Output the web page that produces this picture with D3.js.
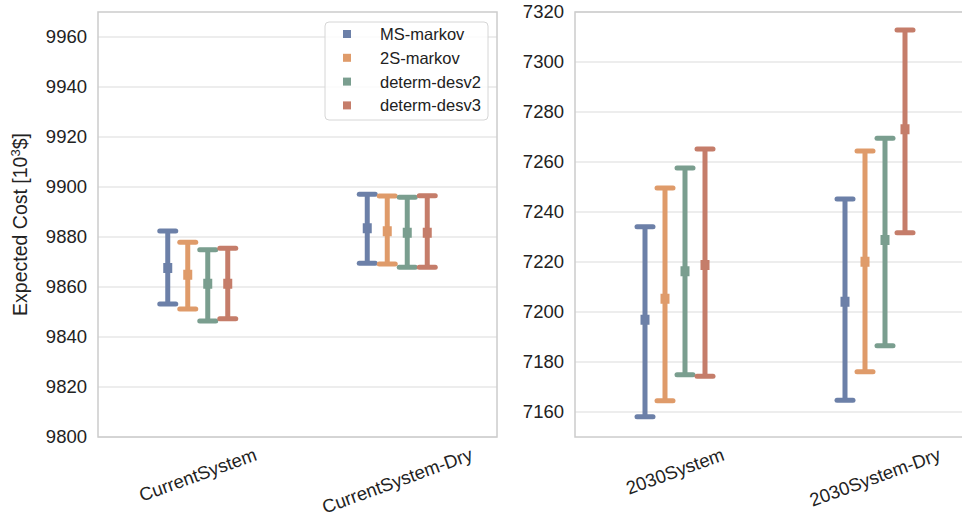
<!DOCTYPE html>
<html>
<head>
<meta charset="utf-8">
<script src="https://cdn.jsdelivr.net/npm/d3@7"></script>
<style>
  html, body { margin: 0; padding: 0; background: #fff; }
  svg { display: block; }
  text { font-family: "Liberation Sans", Arial, Helvetica, sans-serif; fill: #222; }
</style>
</head>
<body>
<svg id="chart" width="962" height="515"></svg>
<script>
// Scenario categories for each panel
const categoriesLeft = ["CurrentSystem", "CurrentSystem-Dry"];
const categoriesRight = ["2030System", "2030System-Dry"];
const seriesNames = ["MS-markov", "2S-markov", "determ-desv2", "determ-desv3"];
const seriesColors = ["#6c80a8", "#df9b6a", "#7a9e8f", "#c57d6a"];

// Expected cost (mean) and interval bounds, left panel
const meanLeft = {
  "MS-markov":    [9867.6, 9883.5],
  "2S-markov":    [9864.9, 9882.3],
  "determ-desv2": [9861.3, 9881.7],
  "determ-desv3": [9861.3, 9881.7]
};
const lowLeft = {
  "MS-markov":    [9853.2, 9869.5],
  "2S-markov":    [9851.2, 9869.2],
  "determ-desv2": [9846.4, 9867.9],
  "determ-desv3": [9847.3, 9867.9]
};
const highLeft = {
  "MS-markov":    [9882.4, 9897.1],
  "2S-markov":    [9877.9, 9896.4],
  "determ-desv2": [9874.9, 9895.9],
  "determ-desv3": [9875.5, 9896.5]
};

// Expected cost (mean) and interval bounds, right panel
const meanRight = {
  "MS-markov":    [7196.9, 7204.1],
  "2S-markov":    [7205.3, 7220.1],
  "determ-desv2": [7216.3, 7228.8],
  "determ-desv3": [7218.8, 7273.1]
};
const lowRight = {
  "MS-markov":    [7158.1, 7164.7],
  "2S-markov":    [7164.5, 7176.1],
  "determ-desv2": [7174.9, 7186.5],
  "determ-desv3": [7174.3, 7231.7]
};
const highRight = {
  "MS-markov":    [7234.1, 7245.2],
  "2S-markov":    [7249.6, 7264.4],
  "determ-desv2": [7257.6, 7269.5],
  "determ-desv3": [7265.2, 7312.8]
};

// Tick values
const ticksLeft = [9800, 9820, 9840, 9860, 9880, 9900, 9920, 9940, 9960];
const ticksRight = [7160, 7180, 7200, 7220, 7240, 7260, 7280, 7300, 7320];
const domainLeft = [9800, 9970];
const domainRight = [7150, 7320];

const svg = d3.select("#chart");
const plotTop = 12, plotBottom = 437;
const tickFont = 18.5;

function drawPanel(x0, x1, cats, yDomain, ticks, means, lows, highs) {
  const x = d3.scaleBand().domain(cats).range([x0, x1]);
  const dodge = d3.scalePoint().domain(seriesNames).range([-30, 30]);
  const y = d3.scaleLinear().domain(yDomain).range([plotBottom, plotTop]);
  const g = svg.append("g");

  // grid
  g.append("g").selectAll("line").data(ticks).join("line")
    .attr("x1", x0).attr("x2", x1)
    .attr("y1", d => y(d)).attr("y2", d => y(d))
    .attr("stroke", "#dcdcdc").attr("stroke-width", 1.2);

  // y axis labels
  const yAxis = d3.axisLeft(y).tickValues(ticks).tickSize(0).tickPadding(11).tickFormat(d3.format("d"));
  const ya = g.append("g").attr("transform", `translate(${x0},0)`).call(yAxis);
  ya.select(".domain").remove();
  ya.selectAll("text").attr("font-size", tickFont).style("font-family", "'Liberation Sans', Arial, sans-serif").attr("fill", "#222");

  // frame
  g.append("rect").attr("x", x0).attr("y", plotTop).attr("width", x1 - x0).attr("height", plotBottom - plotTop)
    .attr("fill", "none").attr("stroke", "#cccccc").attr("stroke-width", 1.5);

  // error bars
  seriesNames.forEach((s, si) => {
    const col = seriesColors[si];
    cats.forEach((c, ci) => {
      const cx = x(c) + x.bandwidth() / 2 + dodge(s);
      const sg = g.append("g");
      sg.append("line").attr("x1", cx).attr("x2", cx)
        .attr("y1", y(lows[s][ci])).attr("y2", y(highs[s][ci]))
        .attr("stroke", col).attr("stroke-width", 5);
      [lows[s][ci], highs[s][ci]].forEach(v => {
        sg.append("line").attr("x1", cx - 8).attr("x2", cx + 8)
          .attr("y1", y(v)).attr("y2", y(v))
          .attr("stroke", col).attr("stroke-width", 5).attr("stroke-linecap", "round");
      });
      sg.append("rect").attr("x", cx - 4.5).attr("y", y(means[s][ci]) - 5)
        .attr("width", 9).attr("height", 10).attr("fill", col);
    });
  });

  // x category labels, rotated
  const ang = 20 * Math.PI / 180;
  cats.forEach(c => {
    const cx = x(c) + x.bandwidth() / 2;
    const t = g.append("text").text(c).attr("font-size", tickFont)
      .attr("text-anchor", "middle").attr("dominant-baseline", "central");
    const L = t.node().getComputedTextLength();
    const H = L * Math.sin(ang) + tickFont * 0.75 * Math.cos(ang);
    t.attr("transform", `translate(${cx},${447 + H / 2}) rotate(-20)`);
  });
}

drawPanel(98, 497, categoriesLeft, domainLeft, ticksLeft, meanLeft, lowLeft, highLeft);
drawPanel(575, 975, categoriesRight, domainRight, ticksRight, meanRight, lowRight, highRight);

// y axis title
const yt = svg.append("text").attr("font-size", 19.5)
  .attr("text-anchor", "middle")
  .attr("transform", `translate(27,${(plotTop + plotBottom) / 2}) rotate(-90)`);
yt.append("tspan").text("Expected Cost [10");
yt.append("tspan").text("3").attr("font-size", 13).attr("dy", -7);
yt.append("tspan").text("$]").attr("dy", 7);

// legend
const lg = svg.append("g");
lg.append("rect").attr("x", 325).attr("y", 22).attr("width", 163).attr("height", 98)
  .attr("rx", 4).attr("fill", "#fff").attr("fill-opacity", 0.8)
  .attr("stroke", "#d6d6d6").attr("stroke-width", 1);
seriesNames.forEach((s, i) => {
  const cy = 34 + i * 23.8;
  lg.append("rect").attr("x", 343).attr("y", cy - 4).attr("width", 8).attr("height", 8)
    .attr("fill", seriesColors[i]);
  lg.append("text").attr("x", 380).attr("y", cy).attr("dominant-baseline", "central")
    .attr("font-size", 16.5).text(s);
});
</script>
</body>
</html>
